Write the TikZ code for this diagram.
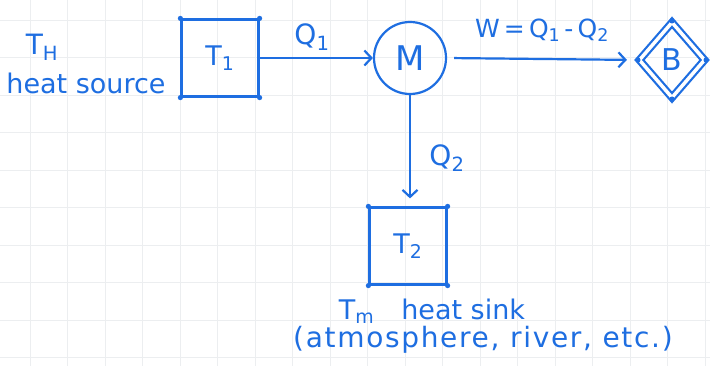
\documentclass[tikz,border=0pt]{standalone}
\usepackage{fontspec}
\setmainfont{DejaVu Sans}
\usetikzlibrary{arrows.meta,shapes.geometric}
\definecolor{ink}{RGB}{30,110,225}
\definecolor{gridc}{RGB}{236,238,240}
\newcommand{\fs}[1]{\fontsize{#1}{#1}\selectfont}
\begin{document}
\begin{tikzpicture}[x=1pt,y=-1pt,line width=2.2pt,
  gridline/.style={draw=gridc,line width=0.6pt},
  box/.style={draw=ink,minimum width=77pt,minimum height=77pt,inner sep=0pt,text=ink,font=\fs{27}},
  engine/.style={circle,draw=ink,minimum size=72pt,inner sep=0pt,text=ink,font=\fs{34}},
  battery/.style={diamond,draw=ink,double=white,double distance=3.5pt,minimum width=66pt,minimum height=76pt,inner sep=0pt,text=ink,font=\fs{30}},
  flow/.style={draw=ink,-{Straight Barb[length=7pt,width=15pt,line width=2.2pt]}},
  lbl/.style={text=ink,inner sep=0pt,font=\fs{26}},
  blob/.style={fill=ink}]
\useasboundingbox (0,0) rectangle (710,366);
\fill[white] (0,0) rectangle (710,366);
\foreach \i in {0,...,18} \draw[gridline] ({30+37.5*\i},0) -- ++(0,366);
\foreach \j in {0,...,9} \draw[gridline] (0,{20+37.5*\j}) -- ++(710,0);
% nodes
\node[box] (T1) at (220,58) {T\textsubscript{1}};
\node[engine] (M) at (410,58) {M};
\node[battery] (B) at (672,60) {B};
\node[box] (T2) at (408,246) {T\textsubscript{2}};
\foreach \n in {T1,T2}
  \foreach \c in {north west,north east,south west,south east}
    \fill[blob] (\n.\c) circle (2.6pt);
\foreach \c in {north,south,east,west}
  \fill[blob] (B.\c) circle (2.6pt);
% texts
\node[lbl,font=\fs{28}] (TH) at (42,47) {T\textsubscript{H}};
\node[lbl,font=\fs{27}] (hs) at (86,83) {heat source};
\node[lbl,font=\fs{28}] (q1) at (312,37) {Q\textsubscript{1}};
\node[lbl,font=\fs{25}] (w) at (542,30) {W\,=\,Q\textsubscript{1}\,-\,Q\textsubscript{2}};
\node[lbl,font=\fs{28}] (q2) at (447,158) {Q\textsubscript{2}};
\node[lbl,font=\fs{27}] (hsk) at (432,311) {T\textsubscript{m}\quad heat sink};
\node[lbl,font=\fs{28}\addfontfeature{LetterSpace=6}] (atm) at (483,340) {(atmosphere, river, etc.)};
% connectors
\draw[flow] (T1.east) -- (M.west);
\draw[flow,shorten <=7pt,shorten >=11pt] (M.east) -- (B.west);
\draw[flow,shorten >=8pt] (M.south) -- (M.south |- T2.north);
\end{tikzpicture}
\end{document}
